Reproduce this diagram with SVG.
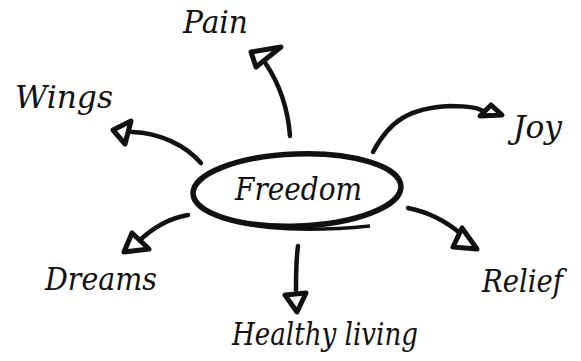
<svg xmlns="http://www.w3.org/2000/svg" width="581" height="361" viewBox="0 0 581 361">
<style>
.lbl{font-family:"DejaVu Serif","Liberation Serif",serif;font-style:italic;font-size:31px;fill:#111}
.ln{fill:none;stroke:#111;stroke-width:4.5;stroke-linecap:round}
.hd{fill:#fff;stroke:#111;stroke-width:5;stroke-linejoin:round}
</style>
<rect width="581" height="361" fill="#fff"/>
<g id="connectors">
<path class="ln" d="M290 136 C288 110 280 85 266 64"/>
<polygon class="hd" points="251,52 281,47 256,67"/>
<path class="ln" d="M201 163 C185 145 160 133 132 132"/>
<polygon class="hd" points="113,130 131,121 125,144"/>
<path class="ln" d="M373 152 C390 120 410 108 450 106 C470 106 480 108 484 112"/>
<polygon class="hd" points="480,116 491,105 502,115"/>
<path class="ln" d="M188 215 C170 218 152 228 137 243"/>
<polygon class="hd" points="132,233 124,252 149,249"/>
<path class="ln" d="M408 208 C428 212 447 222 461 234"/>
<polygon class="hd" points="462,228 453,247 477,249"/>
<path class="ln" d="M298 246 C296 260 296 275 296 290"/>
<polygon class="hd" points="285,295 306,293 297,312"/>
</g>
<g id="freedom">
<ellipse cx="297" cy="190" rx="104" ry="36" fill="none" stroke="#111" stroke-width="5.5" transform="rotate(-2 297 190)"/>
<path d="M200 205 C230 230 300 233 370 226" fill="none" stroke="#111" stroke-width="3.5"/>
<text class="lbl" x="235" y="200" textLength="127" lengthAdjust="spacingAndGlyphs">Freedom</text>
</g>
<g id="pain"><text class="lbl" x="183" y="33" textLength="65" lengthAdjust="spacingAndGlyphs">Pain</text></g>
<g id="wings"><text class="lbl" x="15" y="108" textLength="98" lengthAdjust="spacingAndGlyphs">Wings</text></g>
<g id="joy"><text class="lbl" x="513" y="138" textLength="49" lengthAdjust="spacingAndGlyphs">Joy</text></g>
<g id="dreams"><text class="lbl" x="45" y="290" textLength="112" lengthAdjust="spacingAndGlyphs">Dreams</text></g>
<g id="relief"><text class="lbl" x="482" y="292" textLength="81" lengthAdjust="spacingAndGlyphs">Relief</text></g>
<g id="healthy"><text class="lbl" x="232" y="345" textLength="186" lengthAdjust="spacingAndGlyphs">Healthy living</text></g>
</svg>
